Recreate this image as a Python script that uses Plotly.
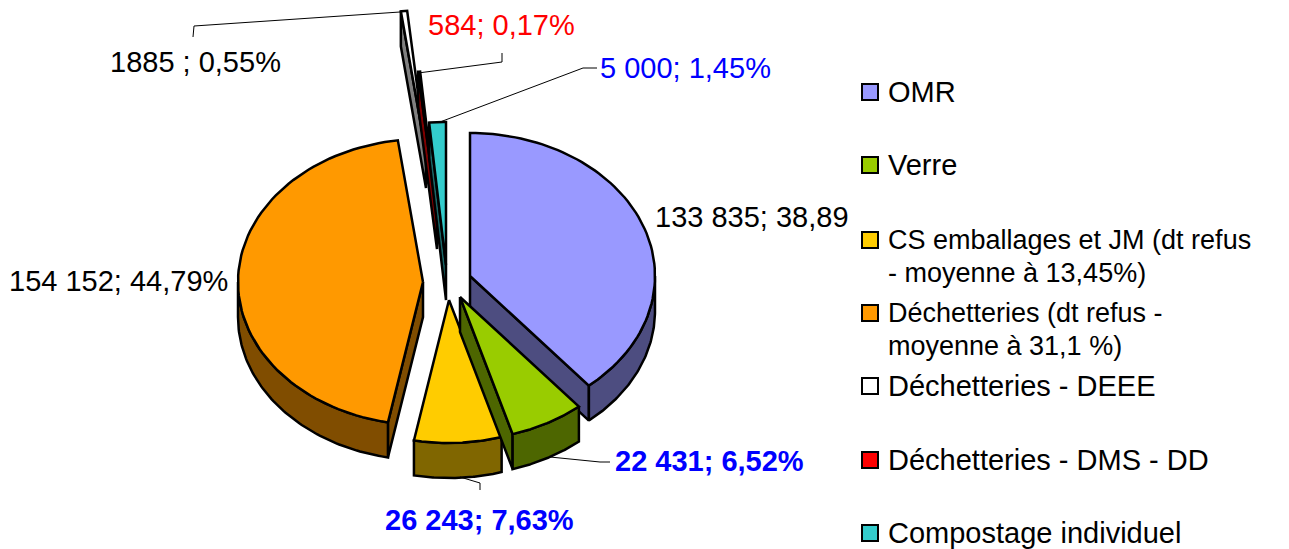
import numpy as np
import plotly.graph_objects as go

categories = ["OMR", "Verre", "CS emballages et JM (dt refus - moyenne à 13,45%)",
              "Déchetteries (dt refus - moyenne à 31,1 %)", "Déchetteries - DEEE",
              "Déchetteries - DMS - DD", "Compostage individuel"]
values = [133835, 22431, 26243, 154152, 1885, 584, 5000]
value_labels = ["133 835; 38,89", "22 431; 6,52%", "26 243; 7,63%", "154 152; 44,79%",
                "1885 ; 0,55%", "584; 0,17%", "5 000; 1,45%"]

top_colors = ["#9999FF", "#99CC00", "#FFCC00", "#FF9900", "#FFFFFF", "#FF0000", "#33CCCC"]
side_colors = ["#4D4D80", "#4D6600", "#806600", "#804D00", "#808080", "#800000", "#1A6666"]
# Exploded slice centres on the canvas
centres = [(470, 276), (460, 297), (449, 300), (423, 282), (426, 153), (437, 214), (446, 265)]
RX, RY, DEPTH = 185, 143, 35
draw_order = [4, 5, 6, 3, 0, 2, 1]

legend_lines = [["OMR"], ["Verre"], ["CS emballages et JM (dt refus", "- moyenne à 13,45%)"],
                ["Déchetteries (dt refus -", "moyenne à 31,1 %)"], ["Déchetteries - DEEE"],
                ["Déchetteries - DMS - DD"], ["Compostage individuel"]]
legend_y = [92, 165, 240, 313, 386, 460, 533]
legend_fs = [29, 29, 27, 27, 29, 29, 29]
label_pos = [(653, 217), (613, 461), (383, 520), (7, 281), (108, 62), (426, 25), (598, 68)]
label_color = ["#000000", "#0000FF", "#0000FF", "#000000", "#000000", "#FF0000", "#0000FF"]
label_bold = [False, True, True, False, False, False, False]
leaders = [([193, 194, 400], [37, 26, 12]), ([418, 502, 502], [73, 62, 53]),
           ([440, 583, 597], [122, 68, 68]), ([550, 600, 610], [457, 462, 462]),
           ([460, 480, 480], [477, 483, 490])]
FONT = "Liberation Sans, Arial, sans-serif"
FS = 29

fig = go.Figure()
bounds = np.concatenate([[0], np.cumsum(values)]) / sum(values) * 2 * np.pi


def poly(xs, ys, fill, name):
    fig.add_trace(go.Scatter(x=list(xs) + [xs[0]], y=list(ys) + [ys[0]], mode="lines", fill="toself",
                             fillcolor=fill, line=dict(color="#000000", width=2.5, shape="linear"),
                             name=name, hoverinfo="skip", showlegend=False))


def rim(cx, cy, a, b, dy=0):
    t = np.linspace(a, b, 80)
    return cx + RX * np.sin(t), cy - RY * np.cos(t) + dy


for i in draw_order:
    a, b = bounds[i], bounds[i + 1]
    cx, cy = centres[i]
    name = categories[i]
    # cut faces
    if np.sin(a) < 0:
        ex, ey = rim(cx, cy, a, a)
        ex, ey = ex[0], ey[0]
        poly([cx, ex, ex, cx], [cy, ey, ey + DEPTH, cy + DEPTH], side_colors[i], name)
    if np.sin(b) > 0:
        ex, ey = rim(cx, cy, b, b)
        ex, ey = ex[0], ey[0]
        poly([cx, ex, ex, cx], [cy, ey, ey + DEPTH, cy + DEPTH], side_colors[i], name)
    # outer wall, lower half only
    lo, hi = max(a, np.pi / 2), min(b, 3 * np.pi / 2)
    if hi > lo:
        x1, y1 = rim(cx, cy, lo, hi)
        x2, y2 = rim(cx, cy, hi, lo, DEPTH)
        poly(np.concatenate([x1, x2]), np.concatenate([y1, y2]), side_colors[i], name)
    # top face
    xr, yr = rim(cx, cy, a, b)
    poly(np.concatenate([[cx], xr]), np.concatenate([[cy], yr]), top_colors[i], name)

for lx, ly in leaders:
    fig.add_trace(go.Scatter(x=lx, y=ly, mode="lines", line=dict(color="#000000", width=1),
                             hoverinfo="skip", showlegend=False))

for i in range(len(categories)):
    fig.add_trace(go.Scatter(x=[870], y=[legend_y[i]], mode="markers", hoverinfo="skip", showlegend=False,
                             marker=dict(symbol="square", size=16, color=top_colors[i],
                                         line=dict(color="#000000", width=2))))
    for k, line in enumerate(legend_lines[i]):
        fig.add_annotation(x=886, y=legend_y[i] + k * 33, text=line, showarrow=False, xanchor="left",
                           yanchor="middle", font=dict(family=FONT, size=legend_fs[i], color="#000000"))
    lx, ly = label_pos[i]
    txt = f"<b>{value_labels[i]}</b>" if label_bold[i] else value_labels[i]
    fig.add_annotation(x=lx, y=ly, text=txt, showarrow=False, xanchor="left", yanchor="middle",
                       font=dict(family=FONT, size=FS, color=label_color[i]))

fig.update_xaxes(range=[0, 1289], visible=False, fixedrange=True)
fig.update_yaxes(range=[549, 0], visible=False, fixedrange=True)
fig.update_layout(width=1289, height=549, margin=dict(l=0, r=0, t=0, b=0), autosize=False,
                  paper_bgcolor="#FFFFFF", plot_bgcolor="#FFFFFF", showlegend=False)
fig.write_html("out.html", config={"displayModeBar": False},
               post_script="document.body.style.margin='0';document.body.style.overflow='hidden';")
